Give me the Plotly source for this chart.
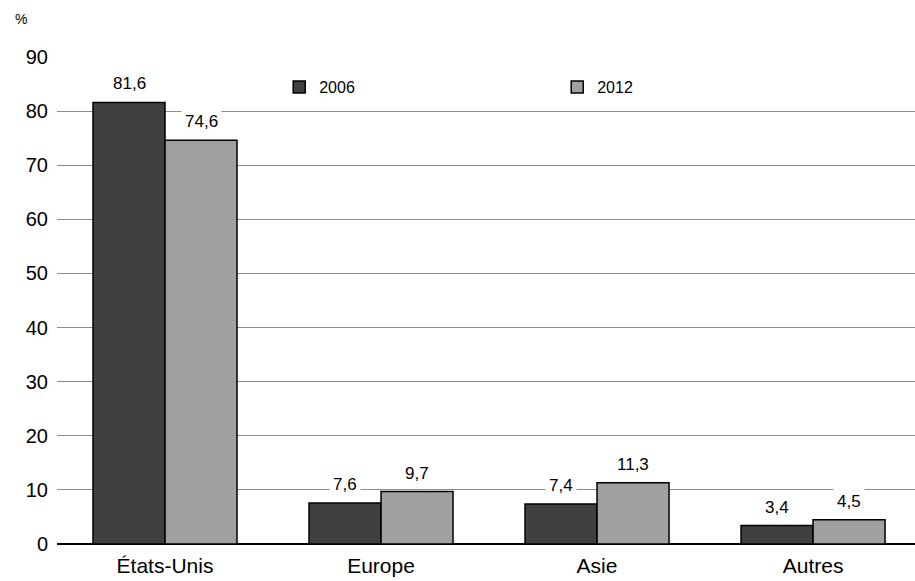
import plotly.graph_objects as go

categories = ["États-Unis", "Europe", "Asie", "Autres"]
years = ["2006", "2012"]
values_2006 = [81.6, 7.6, 7.4, 3.4]
values_2012 = [74.6, 9.7, 11.3, 4.5]
y_ticks = [0, 10, 20, 30, 40, 50, 60, 70, 80, 90]

colors = {"2006": "#404040", "2012": "#a0a0a0"}
series = {"2006": values_2006, "2012": values_2012}

FONT = "Liberation Sans, Arial, sans-serif"

fig = go.Figure()
for yr in years:
    fig.add_trace(go.Bar(
        x=categories, y=series[yr], name=yr,
        marker=dict(color=colors[yr], line=dict(color="#000000", width=1.5)),
    ))

# value labels sit above each bar on a white box that hides the gridline
for i, yr in enumerate(years):
    shift = -36 if i == 0 else 36
    for cat, v in zip(categories, series[yr]):
        fig.add_annotation(
            x=cat, y=v, xref="x", yref="y", xshift=shift, yshift=5,
            text=f"{v:.1f}".replace(".", ","), showarrow=False,
            yanchor="bottom", bgcolor="#ffffff", borderpad=3,
            font=dict(family=FONT, size=17, color="#000000"),
        )

fig.add_annotation(x=0, y=1, xref="paper", yref="paper", xanchor="left",
                   yanchor="bottom", xshift=-44, yshift=28, text="%",
                   showarrow=False, font=dict(family=FONT, size=14, color="#000000"))

fig.update_layout(
    width=915, height=581,
    margin=dict(l=57, r=0, t=57, b=37),
    paper_bgcolor="#ffffff", plot_bgcolor="#ffffff",
    barmode="group", bargap=1/3, bargroupgap=0,
    font=dict(family=FONT, color="#000000"),
    showlegend=True,
    legend=dict(orientation="h", x=0.259, y=0.938, xanchor="left", yanchor="middle",
                bgcolor="rgba(0,0,0,0)", font=dict(family=FONT, size=16, color="#000000"),
                entrywidth=233, entrywidthmode="pixels", itemwidth=30,
                traceorder="normal"),
)
fig.update_xaxes(range=[-0.5, 3.472], showgrid=False, ticks="", showline=False,
                 ticklabelstandoff=7,
                 tickfont=dict(family=FONT, size=21, color="#000000"))
fig.update_yaxes(range=[0, 90], tickvals=y_ticks, showgrid=True, gridcolor="#8c8c8c",
                 gridwidth=1, zeroline=True, zerolinecolor="#000000", zerolinewidth=2,
                 ticks="", ticklabelstandoff=8, showline=False,
                 tickfont=dict(family=FONT, size=20, color="#000000"))

fig.write_html("out.html")
